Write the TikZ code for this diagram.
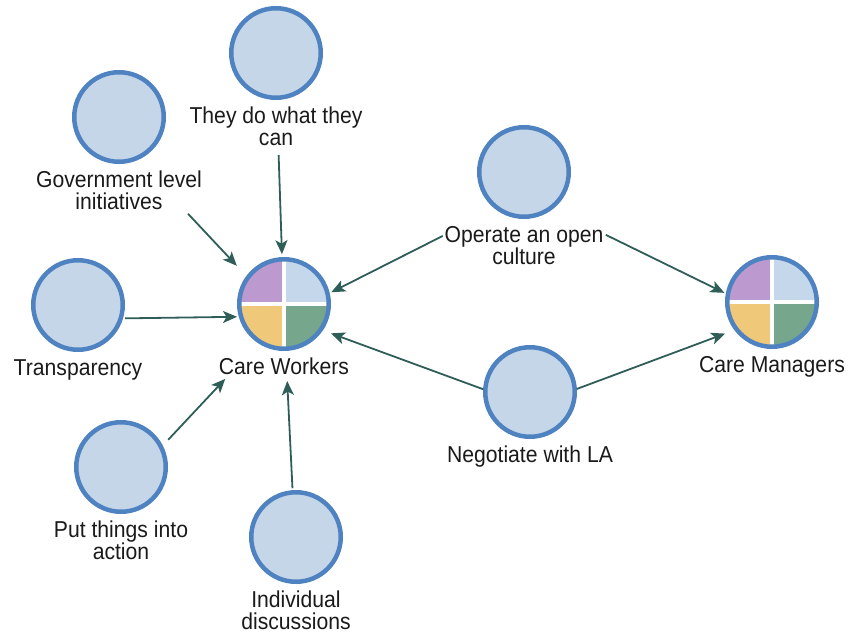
\documentclass[tikz,border=0pt]{standalone}
\usepackage{fontspec}
\setmainfont{Liberation Sans}[FakeStretch=0.92]
\usetikzlibrary{arrows.meta,calc}

\definecolor{nodefill}{HTML}{C5D6E9}
\definecolor{nodeline}{HTML}{4E82C0}
\definecolor{linkcol}{HTML}{2F5D57}
\definecolor{qpurple}{HTML}{BC9AD0}
\definecolor{qblue}{HTML}{C5D7EA}
\definecolor{qyellow}{HTML}{EFC87A}
\definecolor{qgreen}{HTML}{76A78C}
\definecolor{labeltext}{HTML}{1A1A1A}

\begin{document}
\begin{tikzpicture}[x=1pt,y=-1pt,
  factor/.style={circle, draw=nodeline, fill=nodefill, line width=4.5pt,
    minimum size=89.5pt, inner sep=0pt},
  actor/.style={factor, path picture={
    \fill[qpurple] (path picture bounding box.center) rectangle (path picture bounding box.north west);
    \fill[qblue]   (path picture bounding box.center) rectangle (path picture bounding box.north east);
    \fill[qyellow] (path picture bounding box.center) rectangle (path picture bounding box.south west);
    \fill[qgreen]  (path picture bounding box.center) rectangle (path picture bounding box.south east);
    \draw[white, line width=4pt] (path picture bounding box.north) -- (path picture bounding box.south);
    \draw[white, line width=4pt] (path picture bounding box.west) -- (path picture bounding box.east);
  }},
  caption/.style={font=\fontsize{23}{22}\selectfont, text=labeltext, align=center,
    inner sep=0pt, anchor=north, yshift=-7pt},
  link/.style={draw=linkcol, line width=1.8pt,
    -{Stealth[length=14pt,width=12pt,inset=3.5pt]}},
]
\useasboundingbox (0,0) rectangle (848,634);

% factors and their captions
\node[factor] (gov) at (119,117) {};
\node[caption] (govl) at (gov.south) {Government level\\initiatives};
\node[factor] (they) at (276,53) {};
\node[caption] (theyl) at (they.south) {They do what they\\can};
\node[factor] (tr) at (78,305) {};
\node[caption] (trl) at (tr.south) {Transparency};
\node[factor] (put) at (121,467) {};
\node[caption] (putl) at (put.south) {Put things into\\action};
\node[factor] (ind) at (296,537) {};
\node[caption] (indl) at (ind.south) {Individual\\discussions};
\node[factor] (op) at (524,172) {};
\node[caption] (opl) at (op.south) {Operate an open\\culture};
\node[factor] (neg) at (530,392) {};
\node[caption] (negl) at (neg.south) {Negotiate with LA};

% actors
\node[actor] (cw) at (284,304) {};
\node[caption] (cwl) at (cw.south) {Care Workers};
\node[actor] (cm) at (772,302) {};
\node[caption] (cml) at (cm.south) {Care Managers};

% each element is linked through the middle of circle plus caption
\foreach \n in {gov,they,tr,put,ind,op,neg,cw,cm}
  \coordinate (\n hub) at ($(\n.north)!0.5!(\n l.south)$);

% connections
\draw[link, shorten <=101pt, shorten >=69pt] (govhub) -- (cwhub);
\draw[link, shorten <=79pt, shorten >=62pt] (theyhub) -- (cwhub);
\draw[link, shorten <=47pt, shorten >=47pt] (trhub) -- (cwhub);
\draw[link, shorten <=69pt, shorten >=86pt] (puthub) -- (cwhub);
\draw[link, shorten <=72pt, shorten >=65pt] (indhub) -- (cwhub);
\draw[link, shorten <=91pt, shorten >=53pt] (ophub) -- (cwhub);
\draw[link, shorten <=91pt, shorten >=53pt] (ophub) -- (cmhub);
\draw[link, shorten <=50pt, shorten >=50pt] (neghub) -- (cwhub);
\draw[link, shorten <=50pt, shorten >=50pt] (neghub) -- (cmhub);
\end{tikzpicture}
\end{document}
